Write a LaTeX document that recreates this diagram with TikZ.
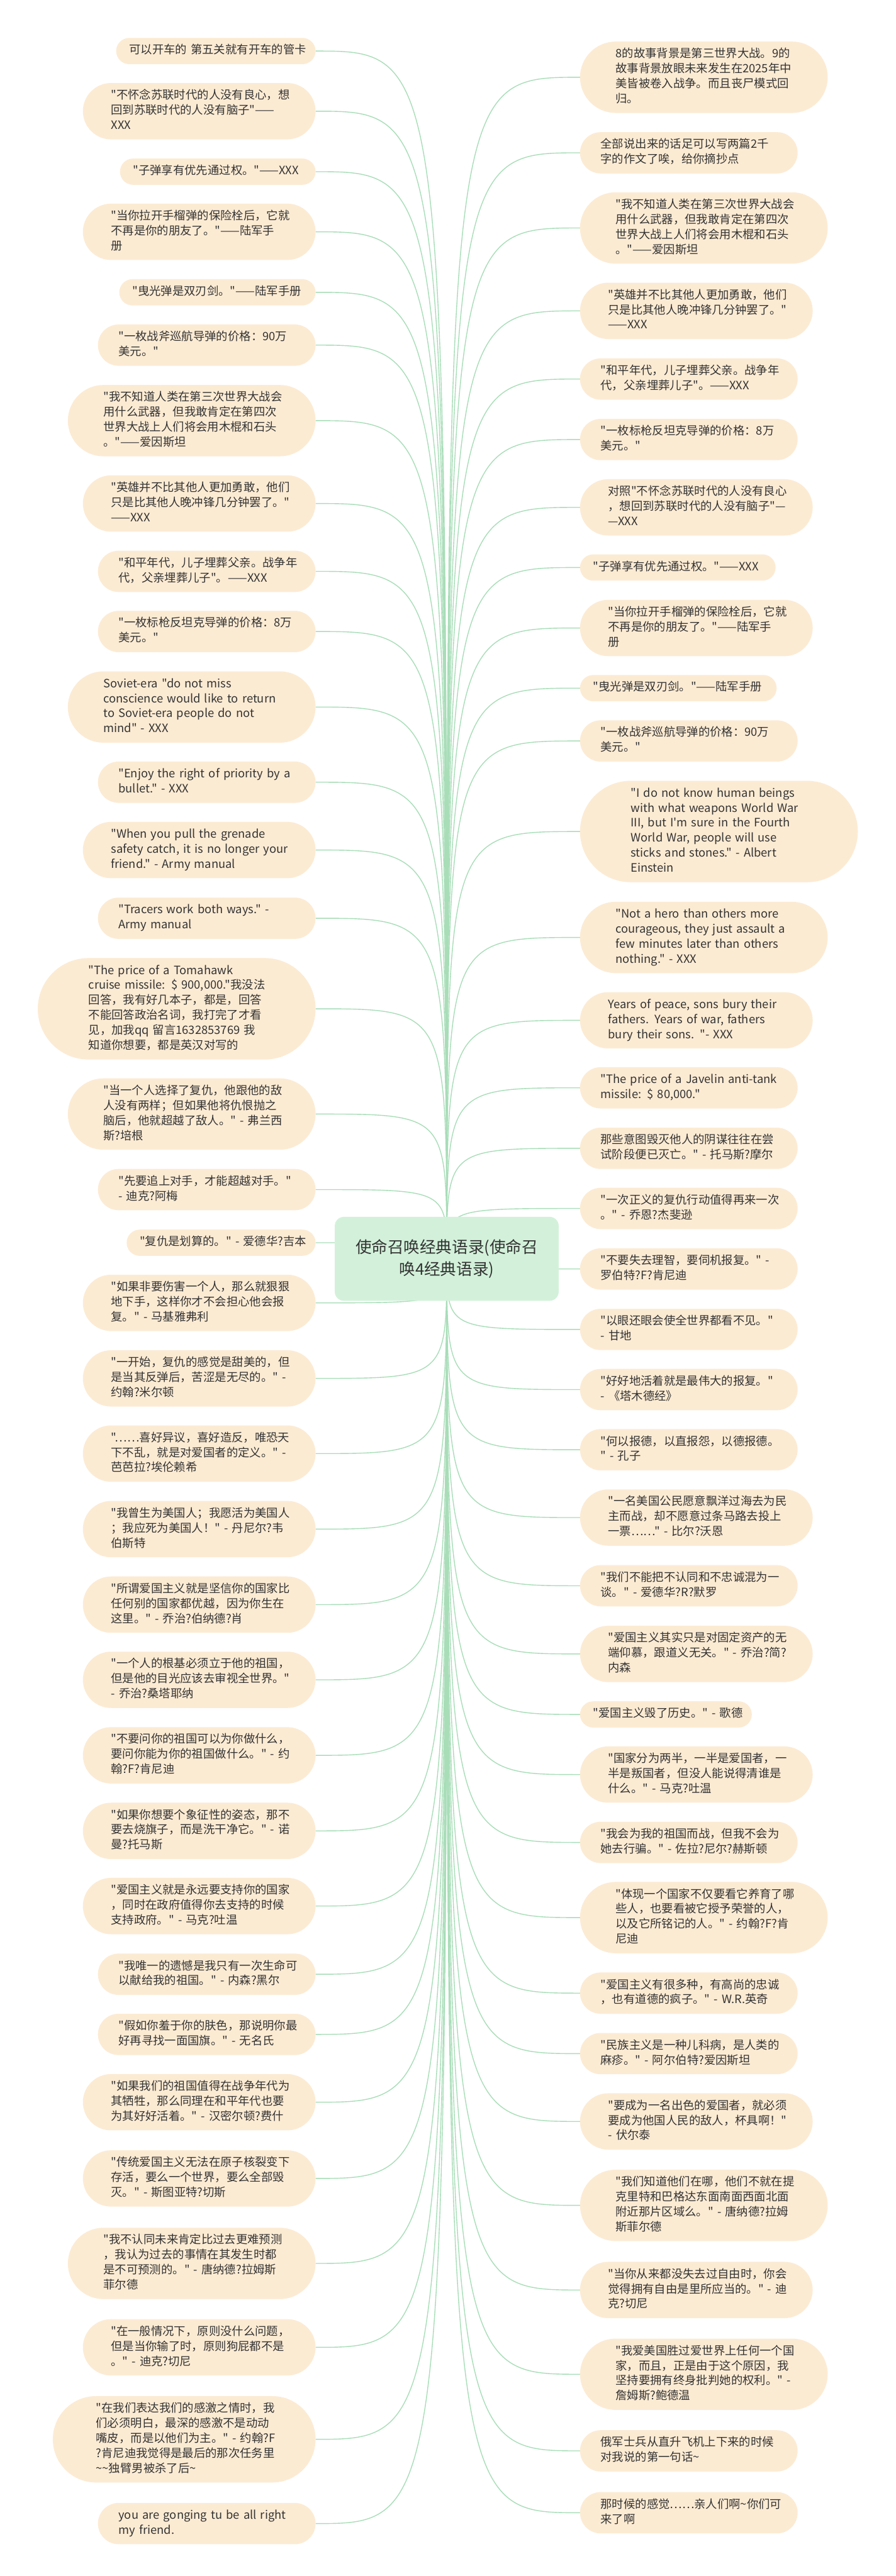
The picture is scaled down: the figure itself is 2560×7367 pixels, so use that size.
\documentclass[tikz,border=0pt]{standalone}
\usepackage{fontspec}
\newfontfamily\cjk{Noto Sans CJK SC}
\pgfdeclarelayer{back}
\pgfdeclarelayer{lines}
\pgfsetlayers{back,lines,main}
\definecolor{bubfill}{HTML}{FCEBD3}
\definecolor{linec}{HTML}{A8DDB8}
\definecolor{txt}{HTML}{333333}
\definecolor{rootfill}{HTML}{D3F1DA}
\tikzset{
  bub/.style={fill=bubfill, text=txt, font=\cjk\fontsize{33}{43}\selectfont, align=left, inner ysep=0pt, outer sep=0pt},
  conn/.style={draw=linec, line width=2.5pt},
  root/.style={fill=rootfill, text=txt, font=\cjk\fontsize{46}{62}\selectfont, align=center, rounded corners=26pt, minimum width=640pt, minimum height=240pt, outer sep=0pt}
}
% name, centre y, lines, text width, text
\newcommand\mmL[5]{\pgfmathsetmacro\hh{43*#3+32}\pgfmathsetmacro\hr{\hh/2}%
  \node[bub, anchor=east, minimum height=\hh pt, inner xsep=\hr pt, text width=#4pt, rounded corners=\hr pt] (#1) at (902,#2) {\begin{tabular}{@{}l@{}}#5\end{tabular}};}
\newcommand\mmR[5]{\pgfmathsetmacro\hh{43*#3+32}\pgfmathsetmacro\hr{\hh/2}%
  \node[bub, anchor=west, minimum height=\hh pt, inner xsep=\hr pt, text width=#4pt, rounded corners=\hr pt] (#1) at (1658,#2) {\begin{tabular}{@{}l@{}}#5\end{tabular}};}
\begin{document}
\begin{tikzpicture}[x=1pt,y=-1pt]
\useasboundingbox (0,0) rectangle (2560,7367);
\begin{pgfonlayer}{back}
\fill[white] (0,0) rectangle (2560,7367);
\end{pgfonlayer}

\node[root] (C) at (1277,3600) {使命召唤经典语录(使命召\\唤4经典语录)};

% left column
\mmL{L1}{146}{1}{495}{可以开车的 第五关就有开车的管卡}
\mmL{L2}{318}{3}{504}{"不怀念苏联时代的人没有良心，想\\回到苏联时代的人没有脑子"——\\XXX}
\mmL{L3}{491}{1}{484}{"子弹享有优先通过权。"——XXX}
\mmL{L4}{663}{3}{504}{"当你拉开手榴弹的保险栓后，它就\\不再是你的朋友了。"——陆军手\\册}
\mmL{L5}{836}{1}{486}{"曳光弹是双刃剑。"——陆军手册}
\mmL{L6}{987}{2}{504}{"一枚战斧巡航导弹的价格：90万\\美元。"}
\mmL{L7}{1203}{4}{504}{"我不知道人类在第三次世界大战会\\用什么武器，但我敢肯定在第四次\\世界大战上人们将会用木棍和石头\\。"——爱因斯坦}
\mmL{L8}{1440}{3}{504}{"英雄并不比其他人更加勇敢，他们\\只是比其他人晚冲锋几分钟罢了。"\\——XXX}
\mmL{L9}{1634}{2}{504}{"和平年代，儿子埋葬父亲。战争年\\代，父亲埋葬儿子"。——XXX}
\mmL{L10}{1806}{2}{504}{"一枚标枪反坦克导弹的价格：8万\\美元。"}
\mmL{L11}{2022}{4}{504}{Soviet-era "do not miss\\conscience would like to return\\to Soviet-era people do not\\mind" - XXX}
\mmL{L12}{2237}{2}{504}{"Enjoy the right of priority by a\\bullet." - XXX}
\mmL{L13}{2431}{3}{504}{"When you pull the grenade\\safety catch, it is no longer your\\friend." - Army manual}
\mmL{L14}{2626}{2}{504}{"Tracers work both ways." -\\Army manual}
\mmL{L15}{2885}{6}{504}{"The price of a Tomahawk\\cruise missile: \$ 900,000."我没法\\回答，我有好几本子，都是，回答\\不能回答政治名词，我打完了才看\\见，加我qq 留言1632853769 我\\知道你想要，都是英汉对写的}
\mmL{L16}{3186}{4}{504}{"当一个人选择了复仇，他跟他的敌\\人没有两样；但如果他将仇恨抛之\\脑后，他就超越了敌人。" - 弗兰西\\斯?培根}
\mmL{L17}{3402}{2}{504}{"先要追上对手，才能超越对手。"\\- 迪克?阿梅}
\mmL{L18}{3554}{1}{465}{"复仇是划算的。" - 爱德华?吉本}
\mmL{L19}{3726}{3}{504}{"如果非要伤害一个人，那么就狠狠\\地下手，这样你才不会担心他会报\\复。" - 马基雅弗利}
\mmL{L20}{3942}{3}{504}{"一开始，复仇的感觉是甜美的，但\\是当其反弹后，苦涩是无尽的。" -\\约翰?米尔顿}
\mmL{L21}{4157}{3}{504}{"……喜好异议，喜好造反，唯恐天\\下不乱，就是对爱国者的定义。" -\\芭芭拉?埃伦赖希}
\mmL{L22}{4373}{3}{504}{"我曾生为美国人；我愿活为美国人\\；我应死为美国人！" - 丹尼尔?韦\\伯斯特}
\mmL{L23}{4589}{3}{504}{"所谓爱国主义就是坚信你的国家比\\任何别的国家都优越，因为你生在\\这里。" - 乔治?伯纳德?肖}
\mmL{L24}{4804}{3}{504}{"一个人的根基必须立于他的祖国，\\但是他的目光应该去审视全世界。"\\- 乔治?桑塔耶纳}
\mmL{L25}{5020}{3}{504}{"不要问你的祖国可以为你做什么，\\要问你能为你的祖国做什么。" - 约\\翰?F?肯尼迪}
\mmL{L26}{5236}{3}{504}{"如果你想要个象征性的姿态，那不\\要去烧旗子，而是洗干净它。" - 诺\\曼?托马斯}
\mmL{L27}{5451}{3}{504}{"爱国主义就是永远要支持你的国家\\，同时在政府值得你去支持的时候\\支持政府。" - 马克?吐温}
\mmL{L28}{5646}{2}{504}{"我唯一的遗憾是我只有一次生命可\\以献给我的祖国。" - 内森?黑尔}
\mmL{L29}{5818}{2}{504}{"假如你羞于你的肤色，那说明你最\\好再寻找一面国旗。" - 无名氏}
\mmL{L30}{6012}{3}{504}{"如果我们的祖国值得在战争年代为\\其牺牲，那么同理在和平年代也要\\为其好好活着。" - 汉密尔顿?费什}
\mmL{L31}{6230}{3}{504}{"传统爱国主义无法在原子核裂变下\\存活，要么一个世界，要么全部毁\\灭。" - 斯图亚特?切斯}
\mmL{L32}{6473}{4}{504}{"我不认同未来肯定比过去更难预测\\，我认为过去的事情在其发生时都\\是不可预测的。" - 唐纳德?拉姆斯\\菲尔德}
\mmL{L33}{6713}{3}{504}{"在一般情况下，原则没什么问题，\\但是当你输了时，原则狗屁都不是\\。" - 迪克?切尼}
\mmL{L34}{6976}{5}{504}{"在我们表达我们的感激之情时，我\\们必须明白，最深的感激不是动动\\嘴皮，而是以他们为主。" - 约翰?F\\?肯尼迪我觉得是最后的那次任务里\\\textasciitilde\textasciitilde 独臂男被杀了后\textasciitilde}
\mmL{L35}{7217}{2}{504}{you are gonging tu be all right\\my friend.}

% right column
\mmR{R1}{221}{4}{504}{8的故事背景是第三世界大战。9的\\故事背景放眼未来发生在2025年中\\美皆被卷入战争。而且丧尸模式回\\归。}
\mmR{R2}{437}{2}{504}{全部说出来的话足可以写两篇2千\\字的作文了唉，给你摘抄点}
\mmR{R3}{652}{4}{504}{"我不知道人类在第三次世界大战会\\用什么武器，但我敢肯定在第四次\\世界大战上人们将会用木棍和石头\\。"——爱因斯坦}
\mmR{R4}{889}{3}{504}{"英雄并不比其他人更加勇敢，他们\\只是比其他人晚冲锋几分钟罢了。"\\——XXX}
\mmR{R5}{1084}{2}{504}{"和平年代，儿子埋葬父亲。战争年\\代，父亲埋葬儿子"。——XXX}
\mmR{R6}{1257}{2}{504}{"一枚标枪反坦克导弹的价格：8万\\美元。"}
\mmR{R7}{1451}{3}{504}{对照"不怀念苏联时代的人没有良心\\，想回到苏联时代的人没有脑子"—\\—XXX}
\mmR{R8}{1623}{1}{484}{"子弹享有优先通过权。"——XXX}
\mmR{R9}{1796}{3}{504}{"当你拉开手榴弹的保险栓后，它就\\不再是你的朋友了。"——陆军手\\册}
\mmR{R10}{1968}{1}{487}{"曳光弹是双刃剑。"——陆军手册}
\mmR{R11}{2119}{2}{504}{"一枚战斧巡航导弹的价格：90万\\美元。"}
\mmR{R12}{2378}{6}{504}{"I do not know human beings\\with what weapons World War\\III, but I'm sure in the Fourth\\World War, people will use\\sticks and stones." - Albert\\Einstein}
\mmR{R13}{2681}{4}{504}{"Not a hero than others more\\courageous, they just assault a\\few minutes later than others\\nothing." - XXX}
\mmR{R14}{2918}{3}{504}{Years of peace, sons bury their\\fathers. Years of war, fathers\\bury their sons. "- XXX}
\mmR{R15}{3111}{2}{504}{"The price of a Javelin anti-tank\\missile: \$ 80,000."}
\mmR{R16}{3284}{2}{504}{那些意图毁灭他人的阴谋往往在尝\\试阶段便已灭亡。" - 托马斯?摩尔}
\mmR{R17}{3456}{2}{504}{"一次正义的复仇行动值得再来一次\\。" - 乔恩?杰斐逊}
\mmR{R18}{3629}{2}{504}{"不要失去理智，要伺机报复。" -\\罗伯特?F?肯尼迪}
\mmR{R19}{3802}{2}{504}{"以眼还眼会使全世界都看不见。"\\- 甘地}
\mmR{R20}{3974}{2}{504}{"好好地活着就是最伟大的报复。"\\- 《塔木德经》}
\mmR{R21}{4146}{2}{504}{"何以报德，以直报怨，以德报德。\\" - 孔子}
\mmR{R22}{4340}{3}{504}{"一名美国公民愿意飘洋过海去为民\\主而战，却不愿意过条马路去投上\\一票……" - 比尔?沃恩}
\mmR{R23}{4535}{2}{504}{"我们不能把不认同和不忠诚混为一\\谈。" - 爱德华?R?默罗}
\mmR{R24}{4730}{3}{504}{"爱国主义其实只是对固定资产的无\\端仰慕，跟道义无关。" - 乔治?简?\\内森}
\mmR{R25}{4903}{1}{416}{"爱国主义毁了历史。" - 歌德}
\mmR{R26}{5075}{3}{504}{"国家分为两半，一半是爱国者，一\\半是叛国者，但没人能说得清谁是\\什么。" - 马克?吐温}
\mmR{R27}{5269}{2}{504}{"我会为我的祖国而战，但我不会为\\她去行骗。" - 佐拉?尼尔?赫斯顿}
\mmR{R28}{5484}{4}{504}{"体现一个国家不仅要看它养育了哪\\些人，也要看被它授予荣誉的人，\\以及它所铭记的人。" - 约翰?F?肯\\尼迪}
\mmR{R29}{5700}{2}{504}{"爱国主义有很多种，有高尚的忠诚\\，也有道德的疯子。" - W.R.英奇}
\mmR{R30}{5873}{2}{504}{"民族主义是一种儿科病，是人类的\\麻疹。" - 阿尔伯特?爱因斯坦}
\mmR{R31}{6067}{3}{504}{"要成为一名出色的爱国者，就必须\\要成为他国人民的敌人，杯具啊！"\\- 伏尔泰}
\mmR{R32}{6307}{4}{504}{"我们知道他们在哪，他们不就在提\\克里特和巴格达东面南面西面北面\\附近那片区域么。" - 唐纳德?拉姆\\斯菲尔德}
\mmR{R33}{6549}{3}{504}{"当你从来都没失去过自由时，你会\\觉得拥有自由是里所应当的。" - 迪\\克?切尼}
\mmR{R34}{6790}{4}{504}{"我爱美国胜过爱世界上任何一个国\\家，而且，正是由于这个原因，我\\坚持要拥有终身批判她的权利。" -\\詹姆斯?鲍德温}
\mmR{R35}{7009}{2}{504}{俄军士兵从直升飞机上下来的时候\\对我说的第一句话\textasciitilde}
\mmR{R36}{7186}{2}{504}{那时候的感觉……亲人们啊\textasciitilde 你们可\\来了啊}

\begin{pgfonlayer}{lines}
\foreach \i in {1,...,35}{\draw[conn] (C.center) .. controls (C.center |- L\i.east) .. (L\i.east);}
\foreach \i in {1,...,36}{\draw[conn] (C.center) .. controls (C.center |- R\i.west) .. (R\i.west);}
\end{pgfonlayer}
\end{tikzpicture}
\end{document}
